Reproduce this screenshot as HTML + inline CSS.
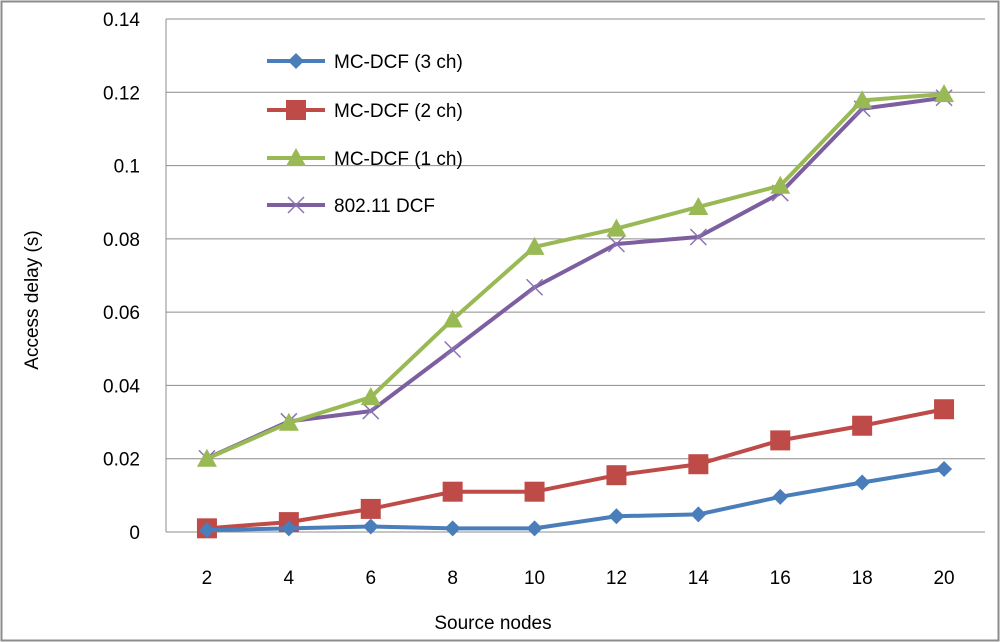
<!DOCTYPE html>
<html><head><meta charset="utf-8"><style>
body{margin:0;background:#fff}
svg{display:block;font-family:"Liberation Sans",sans-serif}
</style></head><body>
<svg id="c" width="1000" height="642">
<rect x="1.5" y="1.5" width="997" height="639" fill="#fff" stroke="#8c8c8c" stroke-width="2"/>
<g id="grid"></g><g id="series"></g><g id="legend"></g>
<text x="38" y="300" font-size="19" text-anchor="middle" transform="rotate(-90 38 300)" fill="#000">Access  delay (s)</text>
<text x="493" y="629" font-size="19" text-anchor="middle" fill="#000">Source nodes</text>
</svg>
<script>
const categories=[2,4,6,8,10,12,14,16,18,20];
const yTicks=[0,0.02,0.04,0.06,0.08,0.1,0.12,0.14];
const mc3=[0.0005,0.001,0.0015,0.001,0.001,0.0043,0.0048,0.0096,0.0135,0.0172];
const mc2=[0.001,0.0027,0.0063,0.011,0.011,0.0155,0.0185,0.025,0.029,0.0335];
const mc1=[0.02,0.0298,0.0368,0.058,0.0778,0.0828,0.0887,0.0945,0.1178,0.1195];
const dcf=[0.0201,0.0302,0.033,0.0498,0.0668,0.0786,0.0805,0.0925,0.1155,0.1185];
const names=["MC-DCF (3 ch)","MC-DCF (2 ch)","MC-DCF (1 ch)","802.11 DCF"];
const NS="http://www.w3.org/2000/svg";
const L=166,R=985,T=19,B=532,yMax=0.14;
const step=(R-L)/categories.length;
const xs=i=>L+step*(i+0.5);
const ys=v=>B-(v/yMax)*(B-T);
function mk(tag,at,parent){const e=document.createElementNS(NS,tag);for(const k in at)e.setAttribute(k,at[k]);parent.appendChild(e);return e;}
const g=document.getElementById('grid');
yTicks.forEach(t=>{
 const y=ys(t);
 const ln=mk('line',{x1:L,x2:R,y1:y,y2:y,stroke:'#8c8c8c','stroke-width':1},g);
 
 
 const tx=mk('text',{x:140,y:y+7,'font-size':19,'text-anchor':'end'},g);tx.textContent=String(t);
 
 
});
const ax=mk('line',{x1:L,x2:L,y1:T,y2:B,stroke:'#8c8c8c'},g);


categories.forEach((c,i)=>{
 const tx=mk('text',{x:xs(i),y:584,'font-size':19,'text-anchor':'middle'},g);tx.textContent=c;
 
 
});
function marker(type,x,y,col,p){
 let e;
 if(type==0)e=mk('path',{d:`M${x} ${y-8}L${x+8} ${y}L${x} ${y+8}L${x-8} ${y}Z`,fill:col},p);
 else if(type==1)e=mk('rect',{x:x-10,y:y-10,width:20,height:20,fill:col},p);
 else if(type==2)e=mk('path',{d:`M${x} ${y-10}L${x+10} ${y+8}L${x-10} ${y+8}Z`,fill:col},p);
 else e=mk('path',{d:`M${x-8} ${y-8}L${x+8} ${y+8}M${x-8} ${y+8}L${x+8} ${y-8}`,stroke:col,'stroke-width':1.5,fill:'none'},p);
 
 
}
const data=[mc3,mc2,mc1,dcf],cols=['#4a7ebb','#be4b48','#98b954','#7d5fa0'];
const sg=document.getElementById('series');
[3,2,1,0].forEach(k=>{
 const grp=mk('g',{},sg);
 
 
 const pl=mk('polyline',{points:data[k].map((v,i)=>xs(i)+','+ys(v)).join(' '),fill:'none',stroke:cols[k],'stroke-width':4,'stroke-linejoin':'round'},grp);
 
 
 data[k].forEach((v,i)=>marker(k,xs(i),ys(v),k==3?'#8a74b4':cols[k],grp));
});
const lg=document.getElementById('legend');
[61,110,158,205].forEach((y,k)=>{
 const grp=mk('g',{},lg);
 
 
 mk('line',{x1:267,x2:325,y1:y,y2:y,stroke:cols[k],'stroke-width':4},grp);
 marker(k,296,y,k==3?'#8a74b4':cols[k],grp);
 const t=mk('text',{x:334,y:y+7,'font-size':19},grp);t.textContent=names[k];
});
</script>
</body></html>
